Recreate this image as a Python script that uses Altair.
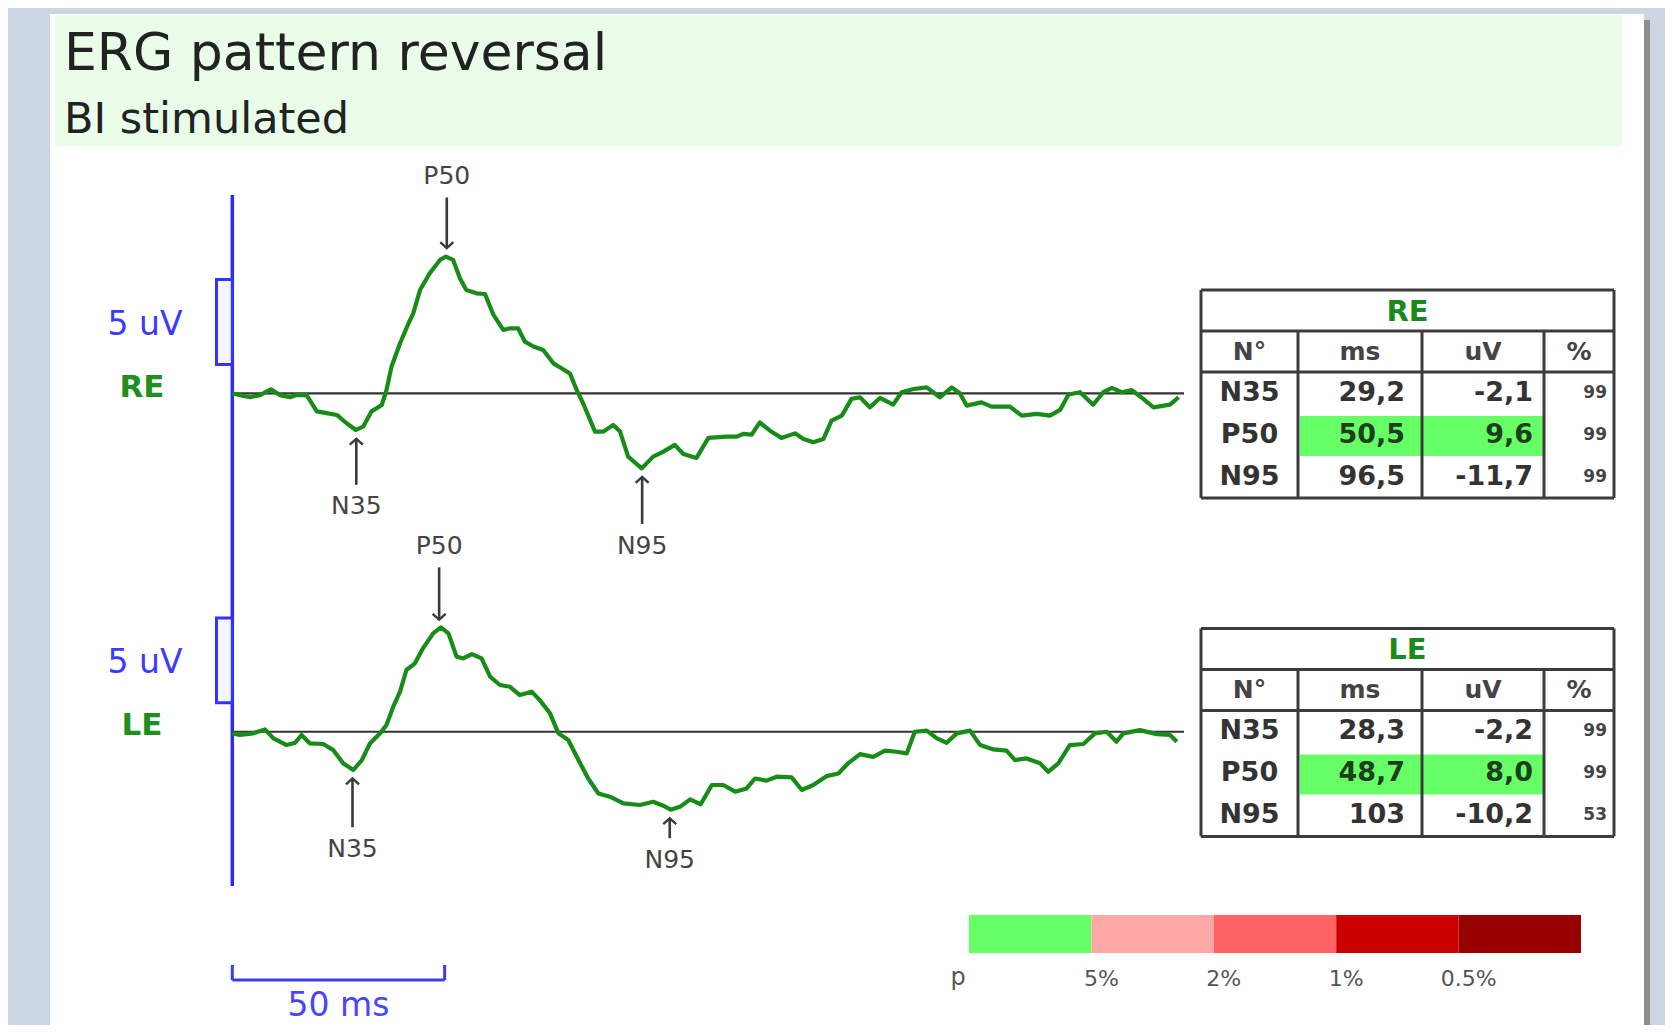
import altair as alt
import numpy as np
import pandas as pd

# ---------------- data ----------------
PEAKS = ["N35", "P50", "N95"]
HEADERS = ["N°", "ms", "uV", "%"]
RE_MS = ["29,2", "50,5", "96,5"]
RE_UV = ["-2,1", "9,6", "-11,7"]
RE_PCT = ["99", "99", "99"]
LE_MS = ["28,3", "48,7", "103"]
LE_UV = ["-2,2", "8,0", "-10,2"]
LE_PCT = ["99", "99", "53"]
HIGHLIGHT = "P50"
P_COLORS = ["#66ff66", "#ffa8a8", "#ff6464", "#cc0000", "#990000"]
P_LABELS = ["5%", "2%", "1%", "0.5%"]

RE_T = [0, 2.6, 4.2, 6.5, 9.1, 11.2, 13.6, 15.1, 17.5, 19.9,
        22.2, 24.6, 26.9, 29.1, 30.8, 32.8, 35.2, 36.3, 37.5, 39.5,
        41.5, 42.6, 44.2, 46.5, 48.9, 50.3, 52.0, 53.6, 55.1, 57.5,
        59.5, 61.5, 63.8, 65.4, 67.3, 68.9, 70.9, 73.2, 75.6, 77.5,
        79.5, 81.1, 82.6, 85.4, 87.4, 89.7, 91.3, 93.2, 96.4, 99.1,
        101.5, 104.2, 106.2, 109.3, 112.1, 116.4, 118.8, 120.3, 122.3, 124.2,
        126.6, 129.3, 132.5, 134.5, 136.8, 139.2, 141.1, 143.5, 145.8, 147.8,
        150.1, 152.5, 155.6, 157.6, 160.4, 163.5, 166.6, 169.4, 171.3, 172.9,
        176.4, 178.8, 183.1, 185.9, 189.4, 192.5, 194.9, 196.9, 199.6, 202.7,
        205.1, 207.1, 209.4, 211.8, 214.5, 216.9, 220.8, 222.8]
RE_V = [0, -0.15, -0.22, -0.1, 0.22, -0.1, -0.22, -0.1, -0.1, -1.0,
        -1.1, -1.2, -1.66, -2.03, -1.85, -1.0, -0.65, 0.18, 1.48, 2.77,
        3.88, 4.43, 5.72, 6.65, 7.39, 7.57, 7.39, 6.37, 5.72, 5.54,
        5.5, 4.34, 3.51, 3.6, 3.6, 2.86, 2.59, 2.4, 1.66, 1.39,
        1.1, 0.18, -0.55, -2.12, -2.12, -1.75, -2.12, -3.51, -4.16, -3.51,
        -3.23, -2.86, -3.36, -3.58, -2.47, -2.4, -2.4, -2.25, -2.29, -1.61,
        -2.07, -2.47, -2.22, -2.53, -2.71, -2.53, -1.51, -1.24, -0.31, -0.22,
        -0.78, -0.26, -0.63, 0.06, 0.24, 0.33, -0.22, 0.33, 0, -0.68,
        -0.5, -0.74, -0.74, -1.24, -1.14, -1.24, -0.92, -0.07, 0.06, -0.63,
        0.06, 0.3, 0.06, 0.18, -0.31, -0.78, -0.63, -0.22]

LE_T = [0, 1.8, 4.9, 7.7, 9.7, 12.8, 14.8, 16.3, 18.3, 21.4,
        23.8, 26.1, 28.5, 30.5, 32.4, 34.8, 36.3, 37.9, 39.5, 41.0,
        43.0, 44.9, 47.3, 49.1, 50.9, 52.8, 54.4, 56.4, 58.7, 60.7,
        63.0, 65.4, 67.7, 70.5, 72.4, 74.8, 76.8, 79.1, 81.9, 83.8,
        86.2, 88.9, 92.1, 96.0, 99.1, 101.5, 103.2, 105.4, 107.8, 110.3,
        112.9, 115.6, 118.4, 121.1, 123.1, 125.8, 128.2, 131.7, 134.1, 136.8,
        139.9, 142.7, 145.0, 147.8, 150.9, 153.7, 156.4, 158.8, 160.7, 163.5,
        165.9, 168.2, 170.6, 173.7, 176.1, 179.2, 182.3, 184.3, 187.0, 190.2,
        192.1, 194.5, 197.2, 200.4, 203.1, 205.9, 208.2, 209.8, 213.7, 217.7,
        220.8, 222.4]
LE_V = [-0.09, -0.18, -0.09, 0.13, -0.37, -0.74, -0.61, -0.18, -0.65, -0.68,
        -1.02, -1.75, -2.12, -1.57, -0.65, -0.09, 0.37, 1.39, 2.22, 3.42,
        3.79, 4.62, 5.45, 5.78, 5.45, 4.16, 4.06, 4.3, 4.06, 3.05,
        2.59, 2.49, 2.03, 2.22, 1.75, 1.02, -0.09, -0.46, -1.75, -2.59,
        -3.42, -3.6, -3.97, -4.06, -3.88, -4.1, -4.32, -4.16, -3.75, -4.02,
        -2.95, -2.95, -3.32, -3.14, -2.59, -2.71, -2.49, -2.53, -3.23, -2.95,
        -2.46, -2.31, -1.75, -1.24, -1.39, -1.05, -1.11, -1.2, 0, 0.06,
        -0.37, -0.61, -0.09, 0.06, -0.74, -0.98, -1.05, -1.57, -1.48, -1.75,
        -2.22, -1.75, -0.74, -0.68, -0.09, 0, -0.55, -0.09, 0.09, -0.13,
        -0.18, -0.55]

# ---------------- layout ----------------
W, H = 1657, 1017
M = 8
T0_X, PX_MS = 232.3, 4.247
V0_Y, PX_UV = 393.3, 18.05
LE_OFF = -18.75
LE_DY = -LE_OFF * PX_UV
FONT = "DejaVu Sans"


def tx(X):
    return (X - T0_X) / PX_MS


def vy(Y):
    return (V0_Y - Y) / PX_UV


xs = alt.Scale(domain=[tx(M), tx(M + W)], nice=False, zero=False)
ys = alt.Scale(domain=[vy(M + H), vy(M)], nice=False, zero=False)


def rect_layer(rows, fill_field=False, **mk):
    df = pd.DataFrame(rows)
    enc = dict(x=alt.X("x:Q", scale=xs, axis=None), x2="x2:Q",
               y=alt.Y("y:Q", scale=ys, axis=None), y2="y2:Q")
    if fill_field:
        enc["color"] = alt.Color("fill:N", scale=None)
    return alt.Chart(df).mark_rect(**mk).encode(**enc)


def rule_layer(rows, **mk):
    df = pd.DataFrame(rows)
    return alt.Chart(df).mark_rule(**mk).encode(
        x=alt.X("x:Q", scale=xs, axis=None), x2="x2:Q",
        y=alt.Y("y:Q", scale=ys, axis=None), y2="y2:Q")


def text_layer(rows, **mk):
    mk.setdefault("font", FONT)
    mk.setdefault("baseline", "middle")
    df = pd.DataFrame(rows)
    return alt.Chart(df).mark_text(**mk).encode(
        x=alt.X("x:Q", scale=xs, axis=None),
        y=alt.Y("y:Q", scale=ys, axis=None), text="text:N")


def pxr(X1, X2, Y1, Y2, **extra):
    d = dict(x=tx(X1), x2=tx(X2), y=vy(Y1), y2=vy(Y2))
    d.update(extra)
    return d


layers = []

# panel, shadow, title band
layers.append(rect_layer([pxr(50, 1644, 14, 1040)], color="white"))
layers.append(rect_layer([pxr(1644, 1650, 20, 1040)], color="#8c8c8c"))
layers.append(rect_layer([pxr(55, 1622, 15, 146)], color="#e9fde9"))
layers.append(text_layer([dict(x=tx(64), y=vy(70), text="ERG pattern reversal")],
                         fontSize=52, align="left", baseline="alphabetic", color="#222222"))
layers.append(text_layer([dict(x=tx(64), y=vy(133), text="BI stimulated")],
                         fontSize=43, align="left", baseline="alphabetic", color="#222222"))

EYES = [
    ("RE", 0.0, RE_T, RE_V, RE_MS, RE_UV, RE_PCT, 0.0, [2.55, 2.8, 2.6]),
    ("LE", LE_OFF, LE_T, LE_V, LE_MS, LE_UV, LE_PCT, LE_DY, [2.7, 2.9, 1.1]),
]

# left blue axis
layers.append(rule_layer([dict(x=0, x2=0, y=vy(195), y2=vy(886))],
                         color="#2b2bff", strokeWidth=3.5))
# calibration boxes
layers.append(rect_layer([dict(x=tx(216.5), x2=0, y=1.6 + e[1], y2=6.3 + e[1]) for e in EYES],
                         fill="#f5f5ff", stroke="#3333ff", strokeWidth=3))
layers.append(text_layer([dict(x=tx(145), y=3.8 + e[1], text="5 uV") for e in EYES],
                         fontSize=33, align="center", color="#3b3bff"))
layers.append(text_layer([dict(x=tx(142), y=0.3 + e[1], text=e[0]) for e in EYES],
                         fontSize=31, fontWeight="bold", align="center", color="#1f8f1f"))
# zero baselines
layers.append(rule_layer([dict(x=0, x2=tx(1184), y=e[1], y2=e[1]) for e in EYES],
                         color="#333333", strokeWidth=2.2))

# traces
trace_df = pd.concat([
    pd.DataFrame({"t": e[2], "y": np.array(e[3]) + e[1], "eye": e[0]}) for e in EYES
])
layers.append(alt.Chart(trace_df).mark_line(color="#178c17", strokeWidth=4.2,
                                            strokeJoin="round").encode(
    x=alt.X("t:Q", scale=xs, axis=None),
    y=alt.Y("y:Q", scale=ys, axis=None),
    detail="eye:N"))

# peak arrows
arrow_rules, arrow_heads, arrow_labels = [], [], []
for name, off, T, V, ms, uv, pct, dy, lens in EYES:
    for i, pk in enumerate(PEAKS):
        lat = float(ms[i].replace(",", "."))
        base = float(np.interp(lat, T, V))
        sign = 1 if pk.startswith("P") else -1
        tip = base + sign * 0.5
        tail = tip + sign * lens[i]
        lab = tail + sign * 1.2
        arrow_rules.append(dict(x=lat, x2=lat, y=tip + off, y2=tail + off))
        arrow_heads.append(dict(x=lat, y=tip + off,
                                shape="M-1,-0.9L0,0L1,-0.9" if sign > 0 else "M-1,0.9L0,0L1,0.9"))
        arrow_labels.append(dict(x=lat, y=lab + off, text=pk))
layers.append(rule_layer(arrow_rules, color="#3a3a3a", strokeWidth=2.6))
layers.append(alt.Chart(pd.DataFrame(arrow_heads)).mark_point(
    filled=False, color="#3a3a3a", strokeWidth=2.4, size=170, opacity=1).encode(
    x=alt.X("x:Q", scale=xs, axis=None), y=alt.Y("y:Q", scale=ys, axis=None),
    shape=alt.Shape("shape:N", scale=None)))
layers.append(text_layer(arrow_labels, fontSize=25, align="center", color="#444444"))

# tables
COL_X = [1201, 1298, 1422, 1544, 1614]
ROW_Y = [290, 331, 372, 414, 456, 498]
hl_rows, grid, t_title, t_head, t_peak, t_ms, t_uv, t_pct, t_ms_hl, t_uv_hl = ([] for _ in range(10))
for name, off, T, V, ms, uv, pct, dy, lens in EYES:
    R = [r + dy for r in ROW_Y]
    for i, pk in enumerate(PEAKS):
        y0, y1 = R[2 + i], R[3 + i]
        yc = vy((y0 + y1) / 2)
        if pk == HIGHLIGHT:
            hl_rows.append(pxr(COL_X[1] + 2, COL_X[3] - 1, y0 + 2, y1, fill=P_COLORS[0]))
            t_ms_hl.append(dict(x=tx(COL_X[2] - 17), y=yc, text=ms[i]))
            t_uv_hl.append(dict(x=tx(COL_X[3] - 11), y=yc, text=uv[i]))
        else:
            t_ms.append(dict(x=tx(COL_X[2] - 17), y=yc, text=ms[i]))
            t_uv.append(dict(x=tx(COL_X[3] - 11), y=yc, text=uv[i]))
        t_peak.append(dict(x=tx((COL_X[0] + COL_X[1]) / 2), y=yc, text=pk))
        t_pct.append(dict(x=tx(COL_X[4] - 7), y=yc, text=pct[i]))
    for yy in (R[0], R[1], R[2], R[5]):
        grid.append(pxr(COL_X[0], COL_X[4], yy, yy))
    for xx in (COL_X[0], COL_X[4]):
        grid.append(pxr(xx, xx, R[0], R[5]))
    for xx in COL_X[1:4]:
        grid.append(pxr(xx, xx, R[1], R[5]))
    t_title.append(dict(x=tx((COL_X[0] + COL_X[4]) / 2), y=vy((R[0] + R[1]) / 2 + 1), text=name))
    for j, hd in enumerate(HEADERS):
        t_head.append(dict(x=tx((COL_X[j] + COL_X[j + 1]) / 2), y=vy((R[1] + R[2]) / 2), text=hd))

layers.append(rect_layer(hl_rows, fill_field=True))
layers.append(rule_layer(grid, color="#3c3c3c", strokeWidth=3))
layers.append(text_layer(t_title, fontSize=29, fontWeight="bold", align="center", color="#1a8a1a"))
layers.append(text_layer(t_head, fontSize=25, fontWeight="bold", align="center", color="#444444"))
layers.append(text_layer(t_peak, fontSize=27, fontWeight="bold", align="center", color="#333333"))
layers.append(text_layer(t_ms, fontSize=27, fontWeight="bold", align="right", color="#333333"))
layers.append(text_layer(t_uv, fontSize=27, fontWeight="bold", align="right", color="#333333"))
layers.append(text_layer(t_ms_hl, fontSize=27, fontWeight="bold", align="right", color="#1d3d1d"))
layers.append(text_layer(t_uv_hl, fontSize=27, fontWeight="bold", align="right", color="#1d3d1d"))
layers.append(text_layer(t_pct, fontSize=17, fontWeight="bold", align="right", color="#444444"))

# time scale bar
layers.append(rule_layer([dict(x=0, x2=50, y=vy(980), y2=vy(980)),
                          dict(x=0, x2=0, y=vy(965), y2=vy(980)),
                          dict(x=50, x2=50, y=vy(965), y2=vy(980))],
                         color="#3a3aff", strokeWidth=3))
layers.append(text_layer([dict(x=25, y=vy(1006), text="50 ms")],
                         fontSize=33, align="center", color="#4646ff"))

# p colour legend
LX0, LW = 969, 122.4
layers.append(rect_layer([pxr(LX0 + i * LW, LX0 + (i + 1) * LW, 915, 953, fill=c)
                          for i, c in enumerate(P_COLORS)], fill_field=True))
layers.append(text_layer([dict(x=tx(LX0 + (i + 1) * LW + 10), y=vy(979), text=lbl)
                          for i, lbl in enumerate(P_LABELS)],
                         fontSize=22, align="center", color="#555555"))
layers.append(text_layer([dict(x=tx(958), y=vy(978), text="p")],
                         fontSize=24, align="center", color="#555555"))

chart = alt.layer(*layers).properties(
    width=W, height=H, background="#ccd6e2", padding=0, autosize="none"
).configure_view(strokeWidth=0)

chart.save("out.html", embed_options={"renderer": "svg", "actions": False})
